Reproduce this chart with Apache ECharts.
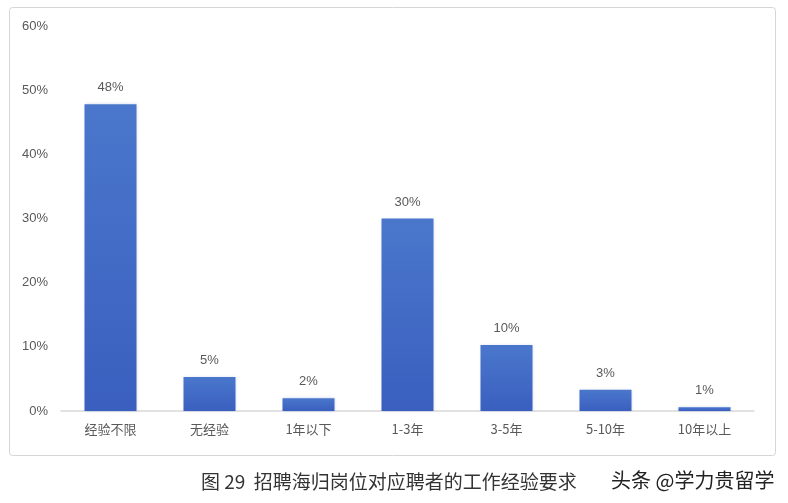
<!DOCTYPE html>
<html><head><meta charset="utf-8">
<script src="https://cdn.jsdelivr.net/npm/echarts@6/dist/echarts.min.js"></script>
<style>html,body{margin:0;padding:0;background:#fff}#c{width:788px;height:503px}</style>
</head><body><div id="c"></div>
<script>
var categories = ['经验不限','无经验','1年以下','1-3年','3-5年','5-10年','10年以上'];
var values = [47.8, 5.3, 2.0, 30.0, 10.3, 3.3, 0.6];
var labels = ['48%','5%','2%','30%','10%','3%','1%'];
var yTicks = [0, 10, 20, 30, 40, 50, 60];

var chart = echarts.init(document.getElementById('c'));
chart.setOption({
  animation: false,
  backgroundColor: '#fff',
  grid: {left: 61, right: 34, top: 26, bottom: 92, containLabel: false},
  graphic: [
    {type: 'rect', shape: {x: 9.5, y: 7.5, width: 766, height: 448, r: 3}, style: {fill: 'none', stroke: '#d6d6d6', lineWidth: 1}, z: -1},
    {type: 'text', left: 201, top: 472, style: {text: '图 29  招聘海归岗位对应聘者的工作经验要求', font: '19px "Noto Sans CJK SC", sans-serif', fill: '#333'}},
    {type: 'text', left: 611, top: 470, style: {text: '头条 @学力贵留学', font: '20px "Noto Sans CJK SC", sans-serif', fill: '#222'}}
  ],
  xAxis: {
    type: 'category', data: categories,
    axisLine: {lineStyle: {color: '#d9d9d9', width: 1.5}},
    axisTick: {show: false},
    axisLabel: {color: '#595959', fontSize: 13, margin: 12, fontFamily: '"Noto Sans CJK SC", sans-serif'}
  },
  yAxis: {
    type: 'value', min: 0, max: 60, interval: 10,
    splitLine: {show: false},
    axisLine: {show: false}, axisTick: {show: false},
    axisLabel: {color: '#595959', fontSize: 13, margin: 13, formatter: function(v){return v + '%';}, fontFamily: 'Arial, sans-serif'}
  },
  series: [{
    type: 'bar', data: values, barWidth: 52,
    itemStyle: {
      color: new echarts.graphic.LinearGradient(0,0,0,1,[{offset:0,color:'#4a77cc'},{offset:1,color:'#3a5fbf'}]),
      shadowColor: 'rgba(60,90,180,0.25)', shadowBlur: 3
    },
    label: {show: true, position: 'top', distance: 10, color: '#595959', fontSize: 13, fontFamily: 'Arial, sans-serif',
      formatter: function(p){return labels[p.dataIndex];}}
  }]
});
</script></body></html>
